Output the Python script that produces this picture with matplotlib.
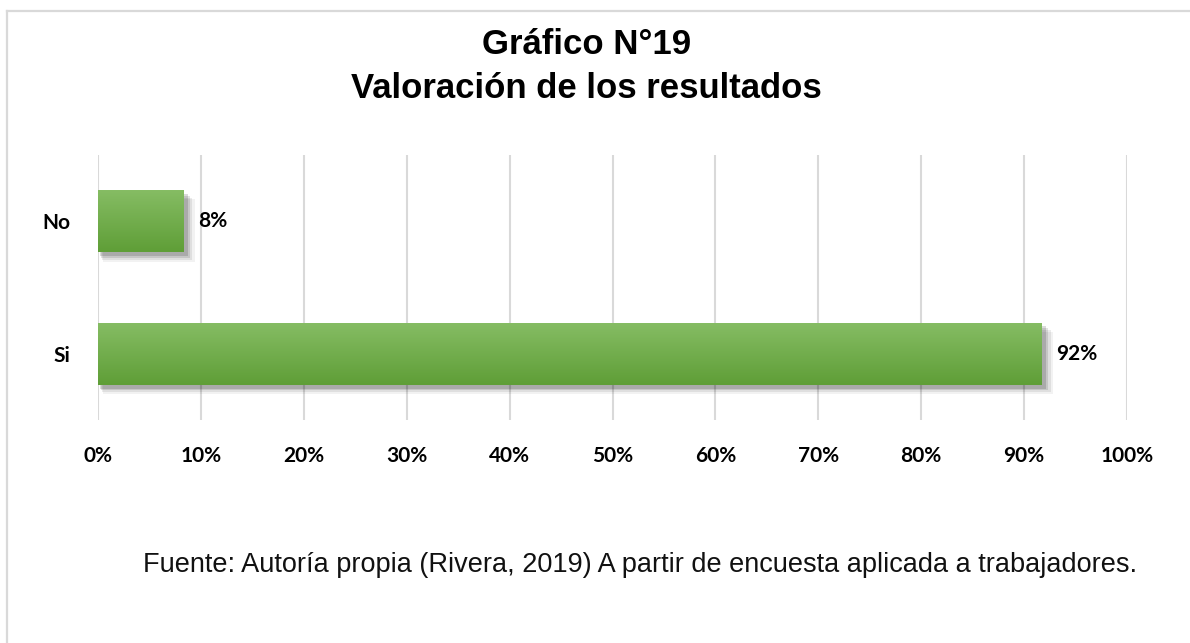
import numpy as np
import matplotlib as mpl
import matplotlib.pyplot as plt
from matplotlib.colors import LinearSegmentedColormap
from matplotlib.lines import Line2D
from matplotlib.patches import Rectangle

# ===== DATA =====
categories = ["Si", "No"]
values = [91.7, 8.3]        # percent
xticks = list(range(0, 101, 10))
title_lines = ["Gráfico N°19", "Valoración de los resultados"]
source_note = "Fuente: Autoría propia (Rivera, 2019) A partir de encuesta aplicada a trabajadores."

# ===== STYLE =====
CLR_TOP = "#86bd64"
CLR_BOT = "#5f9e37"
CLR_GRID = "#d9d9d9"
LABEL_FONT = ["Lato", "DejaVu Sans"]
TITLE_FONT = ["Liberation Sans", "DejaVu Sans"]
BAR_H = 0.47
LBL_SIZE = 15

fig = plt.figure(figsize=(11.9, 6.43), dpi=100)
ax = fig.add_axes([98 / 1190, 1 - 420 / 643, 1029 / 1190, 265 / 643])

grad = LinearSegmentedColormap.from_list("g", [CLR_BOT, CLR_TOP])
ypos = np.arange(len(categories))

for y, v in zip(ypos, values):
    # soft shadow under the bar
    for k, a in zip([5, 4, 3, 2], [0.05, 0.08, 0.11, 0.14]):
        ax.add_patch(Rectangle((0.1 * k, y - BAR_H / 2 - 0.014 * k), v + 0.12 * k, BAR_H,
                               facecolor="black", alpha=a, lw=0, zorder=2))
    rect = Rectangle((0, y - BAR_H / 2), v, BAR_H, facecolor=CLR_BOT, lw=0, zorder=3)
    ax.add_patch(rect)
    im = ax.imshow(np.linspace(0, 1, 100).reshape(-1, 1), cmap=grad, aspect="auto",
                   origin="lower", extent=[0, v, y - BAR_H / 2, y + BAR_H / 2], zorder=4)
    im.set_clip_path(rect)
    ax.text(v + 1.45, y, f"{v:.0f}%", va="center", ha="left", fontsize=LBL_SIZE,
            fontweight="bold", family=LABEL_FONT, zorder=5)

ax.set_xlim(0, 100)
ax.set_ylim(-0.5, 1.5)
ax.set_xticks(xticks)
ax.set_xticklabels([f"{t}%" for t in xticks], fontsize=LBL_SIZE, fontweight="bold", family=LABEL_FONT)
ax.set_yticks(ypos)
ax.set_yticklabels(categories, fontsize=LBL_SIZE, fontweight="bold", family=LABEL_FONT)
ax.tick_params(axis="x", length=0, pad=19)
ax.tick_params(axis="y", length=0, pad=20)
ax.grid(axis="x", color=CLR_GRID, lw=1.5, zorder=0)
ax.set_axisbelow(True)
for s in ax.spines.values():
    s.set_visible(False)

fig.text(0.493, 1 - 45 / 643, title_lines[0], ha="center", va="center",
         fontsize=25, fontweight="bold", family=TITLE_FONT)
fig.text(0.493, 1 - 88 / 643, title_lines[1], ha="center", va="center",
         fontsize=25, fontweight="bold", family=TITLE_FONT)
fig.text(0.538, 1 - 565 / 643, source_note, ha="center", va="center",
         fontsize=19.5, family=TITLE_FONT, color="#111111")

# outer frame (left and top only visible)
fig.add_artist(Line2D([7 / 1190, 7 / 1190], [0, 1 - 11 / 643], color=CLR_GRID, lw=1.6))
fig.add_artist(Line2D([7 / 1190, 1], [1 - 11 / 643, 1 - 11 / 643], color=CLR_GRID, lw=1.6))

fig.savefig("out.png", dpi=100)
